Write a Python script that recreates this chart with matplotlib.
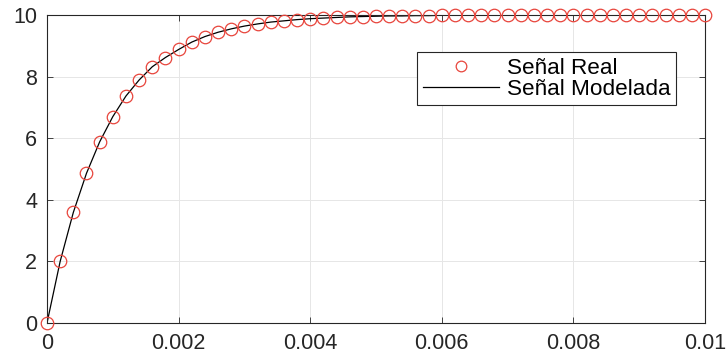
import matplotlib
matplotlib.use("Agg")
import matplotlib.pyplot as plt
import numpy as np

# time samples (s), every 0.2 ms
t = np.arange(51) * 0.0002

senal_real = [0.00, 2.00, 3.59, 4.86, 5.88, 6.70, 7.37, 7.89, 8.32, 8.62,
              8.88, 9.12, 9.30, 9.44, 9.55, 9.64, 9.71, 9.77, 9.81, 9.85,
              9.88, 9.90, 9.92, 9.94, 9.95, 9.96, 9.97, 9.97, 9.98, 9.98,
              9.99, 9.99, 9.99, 9.99, 9.99, 10.0, 10.0, 10.0, 10.0, 10.0,
              10.0, 10.0, 10.0, 10.0, 10.0, 10.0, 10.0, 10.0, 10.0, 10.0,
              10.0]
senal_modelada = senal_real

plt.rcParams["font.family"] = ["Liberation Sans", "DejaVu Sans"]

W, H = 727, 362
x0, x1, y0, y1 = 47, 705, 15, 323

fig = plt.figure(figsize=(W / 100, H / 100), dpi=100)
ax = fig.add_axes([x0 / W, 1 - y1 / H, (x1 - x0) / W, (y1 - y0) / H])

ax.plot(t, senal_real, "o", ms=9, mfc="none", mec="#e8453c", mew=0.9,
        label="Señal Real", clip_on=False, zorder=3)
ax.plot(t, senal_modelada, "-", color="black", lw=0.9,
        label="Señal Modelada", zorder=2)

ax.set_xlim(0, 0.01)
ax.set_ylim(0, 10)
ax.set_xticks([0, 0.002, 0.004, 0.006, 0.008, 0.01])
ax.set_xticklabels(["0", "0.002", "0.004", "0.006", "0.008", "0.01"])
ax.set_yticks([0, 2, 4, 6, 8, 10])
ax.tick_params(direction="in", labelsize=15.5, length=4, width=0.6,
               colors="#262626", top=True, right=True, pad=7)
ax.grid(True, color="#e6e6e6", lw=0.7)
ax.set_axisbelow(True)
for s in ax.spines.values():
    s.set_color("#262626")
    s.set_linewidth(0.8)

lx, ly = (417 - x0) / (x1 - x0), (y1 - 52) / (y1 - y0)
leg = ax.legend(loc="upper left", bbox_to_anchor=(lx, ly), borderaxespad=0,
                fontsize=16.2, fancybox=False, edgecolor="#262626",
                framealpha=1, handlelength=3.4, borderpad=0.25,
                labelspacing=0.0, handletextpad=0.35, markerscale=0.85)
leg.get_frame().set_linewidth(0.8)

fig.savefig("out.png", dpi=100)
